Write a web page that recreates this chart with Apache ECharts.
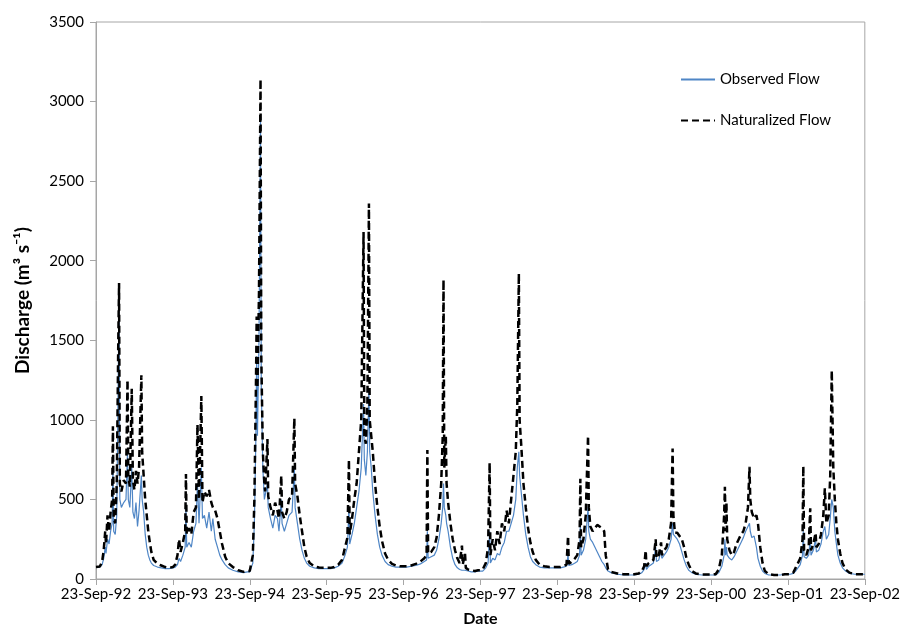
<!DOCTYPE html>
<html>
<head>
<meta charset="utf-8">
<script src="https://cdn.jsdelivr.net/npm/echarts@6/dist/echarts.min.js"></script>
<style>
  html, body { margin: 0; padding: 0; background: #fff; }
  #flow { width: 903px; height: 632px; }
</style>
</head>
<body>
<div id="flow"></div>
<script>
// years since 23-Sep-92 (one line per water year)
var yearsSinceStart = [
  0.00,0.05,0.08,0.10,0.12,0.13,0.15,0.17,0.19,0.21,0.22,0.23,0.25,0.27,0.29,0.30,0.31,0.33,0.36,0.39,0.41,0.42,0.44,0.465,0.48,0.50,0.52,0.54,0.56,0.59,0.60,0.62,0.64,0.66,0.68,0.70,0.72,0.75,0.80,0.85,0.90,0.95,
  1.00,1.03,1.06,1.08,1.10,1.13,1.16,1.17,1.18,1.21,1.24,1.27,1.30,1.32,1.34,1.37,1.385,1.41,1.44,1.47,1.50,1.52,1.55,1.58,1.61,1.64,1.68,1.72,1.78,1.85,1.92,1.97,
  2.00,2.02,2.04,2.06,2.08,2.09,2.10,2.12,2.14,2.15,2.17,2.19,2.20,2.23,2.24,2.27,2.30,2.33,2.36,2.38,2.41,2.42,2.45,2.48,2.51,2.55,2.58,2.59,2.62,2.65,2.68,2.71,2.74,2.78,2.84,2.90,2.96,
  3.00,3.05,3.10,3.15,3.20,3.24,3.27,3.29,3.30,3.33,3.36,3.39,3.42,3.45,3.48,3.49,3.51,3.53,3.55,3.56,3.58,3.60,3.63,3.66,3.69,3.72,3.76,3.80,3.85,3.90,3.95,
  4.00,4.04,4.10,4.16,4.22,4.27,4.30,4.31,4.32,4.36,4.40,4.43,4.46,4.49,4.51,4.52,4.53,4.55,4.56,4.58,4.61,4.64,4.67,4.70,4.73,4.76,4.77,4.80,4.81,4.84,4.88,4.93,4.97,
  5.00,5.03,5.07,5.10,5.12,5.13,5.16,5.19,5.22,5.25,5.28,5.31,5.34,5.37,5.40,5.43,5.46,5.48,5.50,5.51,5.53,5.56,5.59,5.62,5.65,5.68,5.72,5.77,5.83,5.90,5.96,
  6.00,6.04,6.08,6.12,6.14,6.15,6.19,6.23,6.26,6.29,6.30,6.31,6.34,6.37,6.40,6.41,6.43,6.46,6.49,6.52,6.55,6.58,6.61,6.63,6.66,6.70,6.78,6.86,6.94,
  7.00,7.02,7.06,7.10,7.13,7.15,7.16,7.19,7.22,7.25,7.28,7.29,7.32,7.35,7.36,7.39,7.42,7.45,7.48,7.50,7.51,7.53,7.56,7.59,7.62,7.65,7.68,7.71,7.75,7.80,7.88,7.95,
  8.00,8.02,8.06,8.10,8.14,8.17,8.18,8.19,8.20,8.21,8.24,8.27,8.30,8.33,8.36,8.39,8.42,8.45,8.48,8.50,8.51,8.53,8.56,8.59,8.61,8.64,8.67,8.70,8.75,8.82,8.90,8.96,
  9.00,9.03,9.07,9.10,9.13,9.16,9.19,9.20,9.21,9.24,9.27,9.29,9.30,9.33,9.36,9.37,9.40,9.43,9.46,9.48,9.50,9.53,9.55,9.57,9.59,9.61,9.63,9.65,9.68,9.71,9.75,9.80,9.87,9.95,10.00
];

var observedFlow = [
  75,75,90,130,200,160,250,220,300,350,700,300,280,400,1300,1750,500,450,480,500,800,500,450,700,420,380,480,330,430,650,500,420,280,200,150,120,100,85,75,70,65,65,
  70,75,90,130,110,150,200,450,200,230,200,300,350,600,350,700,380,400,320,420,300,380,250,200,150,120,90,70,55,45,40,45,
  45,50,100,350,900,1400,900,1500,2900,1200,700,500,500,600,450,380,320,400,380,300,500,350,300,350,400,420,700,450,350,250,180,130,100,80,70,65,65,
  65,65,70,80,100,150,200,450,220,280,350,450,550,700,1100,750,650,800,1200,800,700,550,400,280,200,150,110,90,80,75,75,
  75,75,80,85,95,110,120,300,130,140,150,180,250,350,450,600,450,400,350,300,200,130,90,70,60,55,55,55,50,50,45,45,50,
  50,50,70,100,300,100,130,120,160,150,200,230,300,300,350,400,500,700,800,650,550,400,280,200,140,110,90,75,70,70,70,
  70,70,75,80,150,85,90,100,110,150,350,150,180,250,450,300,250,230,200,170,140,110,90,70,50,40,30,25,25,
  25,25,30,40,60,100,60,80,90,100,200,110,120,180,130,150,170,200,250,350,280,270,250,220,170,120,80,55,40,30,25,25,
  25,25,25,40,80,150,250,150,200,150,130,120,140,170,200,230,260,300,330,350,300,260,270,200,130,80,50,35,25,25,25,30,
  30,30,35,50,70,90,150,300,140,130,150,250,150,180,250,170,180,220,300,330,250,280,380,500,450,300,220,150,100,70,50,35,30,30,30
];

var naturalizedFlow = [
  75,78,110,180,300,220,400,300,420,500,960,380,350,600,1500,1860,600,550,620,600,1250,650,580,1195,620,560,680,600,700,1280,800,650,500,400,300,230,170,120,95,85,75,70,
  75,90,150,250,170,230,300,660,280,320,280,420,450,970,500,1150,480,550,520,560,480,450,430,380,300,220,140,100,75,55,45,50,
  50,60,150,500,1200,1650,1200,1800,3140,1400,800,600,550,880,520,450,400,480,430,380,650,420,380,420,500,520,1010,600,520,400,300,200,140,100,80,72,70,
  70,70,75,90,120,200,260,750,280,380,500,600,800,1000,2180,900,850,1100,2360,1000,900,800,600,450,330,240,160,120,95,85,80,
  80,80,85,95,110,130,150,810,160,170,200,260,400,600,900,1880,700,900,600,480,350,250,180,130,100,210,90,160,70,60,55,50,55,
  55,60,100,200,730,150,250,180,300,220,350,300,430,350,500,650,800,1100,1920,1000,850,600,450,320,230,170,120,90,80,75,75,
  75,75,80,90,270,95,110,130,150,250,630,200,250,400,900,450,330,300,320,340,330,320,300,150,60,45,35,30,30,
  30,30,35,50,80,180,80,100,110,120,250,130,150,230,150,180,200,250,350,820,400,290,290,270,250,200,130,90,50,35,28,28,
  28,28,30,60,150,400,580,300,480,250,180,150,170,220,250,280,300,350,450,705,500,420,380,400,350,200,100,50,30,25,25,30,
  30,30,40,70,100,130,250,710,180,150,200,445,180,220,290,200,220,280,400,570,350,400,650,1310,700,500,350,250,160,100,60,40,30,30,30
];

var dateLabels = ['23-Sep-92', '23-Sep-93', '23-Sep-94', '23-Sep-95', '23-Sep-96', '23-Sep-97',
                  '23-Sep-98', '23-Sep-99', '23-Sep-00', '23-Sep-01', '23-Sep-02'];

var seriesNames = ['Observed Flow', 'Naturalized Flow'];

(function() {
  var myChart = echarts.init(document.getElementById('flow'));

  var obsData = yearsSinceStart.map(function(t, i) { return [t, observedFlow[i]]; });
  var natData = yearsSinceStart.map(function(t, i) { return [t, naturalizedFlow[i]]; });

  var font = 'Lato, "Open Sans", sans-serif';

  var option = {
    animation: false,
    textStyle: { fontFamily: font },
    grid: {
      left: 96, right: 32, top: 22, bottom: 45,
      show: true, borderColor: '#a6a6a6', borderWidth: 1
    },
    legend: {
      orient: 'vertical',
      left: 675, top: 67,
      itemWidth: 34, itemHeight: 12, itemGap: 26,
      data: seriesNames,
      itemStyle: { opacity: 0 },
      textStyle: { fontFamily: font, fontSize: 15, color: '#000' }
    },
    xAxis: {
      type: 'value',
      min: 0, max: 10, interval: 1,
      name: 'Date',
      nameLocation: 'middle',
      nameGap: 32,
      nameTextStyle: { fontFamily: font, fontSize: 16, fontWeight: 'bold', color: '#000' },
      axisLine: { lineStyle: { color: '#a6a6a6' } },
      axisTick: { show: true, length: 6, lineStyle: { color: '#a6a6a6' } },
      splitLine: { show: false },
      axisLabel: {
        color: '#000', fontSize: 15, margin: 8,
        formatter: function(v) { return dateLabels[Math.round(v)]; }
      }
    },
    yAxis: {
      type: 'value',
      min: 0, max: 3500, interval: 500,
      name: 'Discharge (m³ s⁻¹)',
      nameLocation: 'middle',
      nameGap: 64,
      nameTextStyle: { fontFamily: font, fontSize: 19, fontWeight: 'bold', color: '#000' },
      axisLine: { show: true, lineStyle: { color: '#a6a6a6' } },
      axisTick: { show: true, length: 6, lineStyle: { color: '#a6a6a6' } },
      splitLine: { show: false },
      axisLabel: {
        color: '#000', fontSize: 15, margin: 12,
        formatter: function(v) { return String(v); }
      }
    },
    series: [
      {
        name: seriesNames[0],
        type: 'line',
        data: obsData,
        symbol: 'none',
        z: 2,
        lineStyle: { color: '#4f86c6', width: 1.2 },
        itemStyle: { color: '#4f86c6' }
      },
      {
        name: seriesNames[1],
        type: 'line',
        data: natData,
        symbol: 'none',
        z: 3,
        lineStyle: { color: '#000', width: 2.5, type: [7, 4] },
        itemStyle: { color: '#000' }
      }
    ]
  };

  myChart.setOption(option);
})();
</script>
</body>
</html>
